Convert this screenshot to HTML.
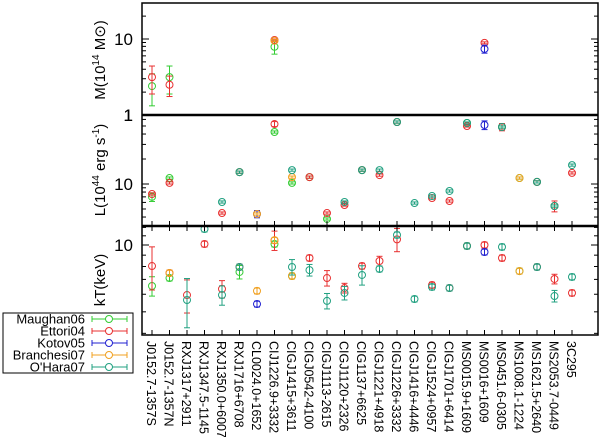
<!DOCTYPE html>
<html><head><meta charset="utf-8"><style>
body{margin:0;background:#fff;overflow:hidden;}
svg{display:block;font-family:"Liberation Sans",sans-serif;}
</style></head><body>
<svg id="chart" width="600" height="437" viewBox="0 0 600 437"></svg>
<script>
const categories=["J0152.7-1357S","J0152.7-1357N","RXJ1317+2911","RXJ1347.5-1145","RXJ1350.0+6007","RXJ1716+6708","CL0024.0+1652","CIJ1226.9+3332","CIGJ1415+3611","CIGJ0542-4100","CIGJ1113-2615","CIGJ1120+2326","CIG1137+6625","CIGJ1221+4918","CIGJ1226+3332","CIGJ1416+4446","CIGJ1524+0957","CIGJ1701+6414","MS0015.9+1609","MS0016+1609","MS0451.6-0305","MS1008.1-1224","MS1621.5+2640","MS2053.7-0449","3C295"];
const seriesNames=["Maughan06","Ettori04","Kotov05","Branchesi07","O'Hara07"];
const seriesColors=["#33cc33","#e83030","#2020d0","#f0a020","#20a080"];
const N=null;
// Mass (10^14 Msun)
const massMaughan=[2.4,3.15,N,N,N,N,N,7.9,N,N,N,N,N,N,N,N,N,N,N,N,N,N,N,N,N];
const massEttori=[3.15,2.5,N,N,N,N,N,9.7,N,N,N,N,N,N,N,N,N,N,N,8.9,N,N,N,N,N];
const massKotov=[N,N,N,N,N,N,N,N,N,N,N,N,N,N,N,N,N,N,N,7.4,N,N,N,N,N];
const massBranchesi=[N,N,N,N,N,N,N,9.5,N,N,N,N,N,N,N,N,N,N,N,N,N,N,N,N,N];
const massOHara=[N,N,N,N,N,N,N,N,N,N,N,N,N,N,N,N,N,N,N,N,N,N,N,N,N];
// Luminosity (10^44 erg/s)
const lumMaughan=[7.0,11.8,N,N,N,13.9,N,42.3,10.3,12.1,3.79,N,14.7,N,55.8,N,N,N,54.3,N,48.6,11.8,10.6,5.43,N];
const lumEttori=[7.58,10.3,N,N,4.47,13.9,N,52.8,N,12.1,4.47,5.58,14.7,12.8,55.8,N,6.78,6.24,50,N,48.6,N,10.6,5.43,13.6];
const lumKotov=[N,N,N,N,N,N,4.35,N,N,N,N,N,N,N,N,N,N,N,N,51.4,N,N,N,N,N];
const lumBranchesi=[N,N,N,N,N,N,4.35,N,12.1,N,N,N,N,N,N,N,N,N,N,N,N,11.8,N,N,N];
const lumOHara=[N,N,N,N,6.07,13.9,N,N,14.7,N,N,6.07,14.7,14.7,55.8,5.9,7.17,8.24,54.3,N,48.6,N,10.6,5.43,16.9];
// Temperature (keV)
const tMaughan=[6.54,7.1,N,N,N,7.56,N,10.1,7.25,N,N,N,N,N,N,N,N,N,9.9,N,N,7.63,N,N,N];
const tEttori=[8.04,7.48,5.95,10.1,6.34,7.96,N,10.5,N,8.74,7.1,6.4,8.04,8.47,10.6,N,6.6,6.4,9.9,10,8.74,N,7.96,7.03,6.08];
const tKotov=[N,N,N,N,N,N,5.42,N,N,N,N,N,N,N,N,N,N,N,N,9.3,N,N,N,N,N];
const tBranchesi=[N,7.48,N,N,N,N,6.21,10.5,7.25,N,N,N,N,N,N,N,N,N,N,N,N,7.63,N,N,N];
const tOHara=[N,N,5.65,11.8,5.95,7.96,N,N,7.96,7.71,5.6,6.08,7.33,7.8,11.1,5.71,6.47,6.4,9.9,N,9.8,N,7.96,5.89,7.18];
// fractional error overrides (panel-series-index)
const bigErrors={"m-0-0":0.45,"m-1-0":0.4,"m-0-1":0.4,"m-1-1":0.3,"m-0-7":0.2,"m-2-19":0.12,
"l-2-19":0.12,"l-1-20":0.1,"l-1-23":0.15,"l-2-6":0.1,"l-0-0":0.12,"l-1-7":0.07,
"t-1-0":0.22,"t-0-0":0.1,"t-1-2":0.17,"t-4-2":0.25,"t-1-4":0.09,"t-4-4":0.1,"t-0-5":0.07,"t-1-7":0.1,"t-4-8":0.08,"t-4-9":0.06,"t-1-10":0.08,"t-4-10":0.08,"t-4-12":0.1,"t-1-14":0.12,"t-1-13":0.05,"t-1-23":0.05,"t-4-23":0.06,"t-1-11":0.05,"t-4-11":0.07};
const panels=[
 {key:"m",name:"mass",top:3,bot:115,dec:76,ref:10,refY:39,data:[massMaughan,massEttori,massKotov,massBranchesi,massOHara],ticks:[10,1],minor:[2,3,4,5,6,7,8,9,20,30]},
 {key:"l",name:"luminosity",top:115,bot:226,dec:83,ref:10,refY:184,data:[lumMaughan,lumEttori,lumKotov,lumBranchesi,lumOHara],ticks:[10],minor:[4,5,6,7,8,9,20,30,40,50,60]},
 {key:"t",name:"temperature",top:226,bot:335,dec:222,ref:10,refY:245,data:[tMaughan,tEttori,tKotov,tBranchesi,tOHara],ticks:[10],minor:[4,5,6,7,8,9,11,12]}
];
const X0=142,X1=598;
function xPos(i){return 152+i*17.5;}
function yPos(p,v){return p.refY-(Math.log10(v)-Math.log10(p.ref))*p.dec;}
const svg=document.getElementById('chart');
const NS="http://www.w3.org/2000/svg";
function mk(t,a,parent){const e=document.createElementNS(NS,t);for(const k in a)e.setAttribute(k,a[k]);(parent||svg).appendChild(e);return e;}
panels.forEach(p=>{
 const g=mk('g',{});
 
 
 p.minor.concat(p.ticks).forEach(v=>{const y=yPos(p,v);if(y<=p.top+1||y>=p.bot-1)return;
  const big=p.ticks.includes(v);const L=big?7:4;
  mk('line',{x1:X0,x2:X0+L,y1:y,y2:y,stroke:'#000','stroke-width':1},g);
  mk('line',{x1:X1-L,x2:X1,y1:y,y2:y,stroke:'#000','stroke-width':1},g);});
 p.ticks.forEach(v=>{const t=mk('text',{x:133,y:yPos(p,v)+6,'text-anchor':'end','font-size':17},g);t.textContent=v;
  
  });
 p.data.forEach((arr,s)=>{arr.forEach((v,i)=>{if(v==null)return;
  const col=seriesColors[s];const x=xPos(i),y=yPos(p,v);
  const f=bigErrors[p.key+'-'+s+'-'+i]||0.03;
  const yl=yPos(p,v*(1-f)),yh=yPos(p,v*(1+f));
  const pt=mk('g',{},g);
  
  
  mk('line',{x1:x,x2:x,y1:Math.max(yh,p.top),y2:Math.min(yl,p.bot),stroke:col,'stroke-width':1},pt);
  if(yh>p.top)mk('line',{x1:x-3,x2:x+3,y1:yh,y2:yh,stroke:col},pt);
  if(yl<p.bot)mk('line',{x1:x-3,x2:x+3,y1:yl,y2:yl,stroke:col},pt);
  mk('circle',{cx:x,cy:y,r:3.5,fill:'none',stroke:col,'stroke-width':1},pt);
 });});
});
categories.forEach((c,i)=>{const x=xPos(i);
 mk('line',{x1:x,x2:x,y1:226,y2:231,stroke:'#000'});
 mk('line',{x1:x,x2:x,y1:330,y2:335,stroke:'#000'});
 mk('line',{x1:x,x2:x,y1:221,y2:226,stroke:'#000'});
 const t=mk('text',{x:0,y:0,'font-size':12.5,transform:`translate(${x-5},341) rotate(90)`});
 t.textContent=c;
 
 
});
mk('rect',{x:X0,y:3,width:X1-X0,height:332,fill:'none',stroke:'#000','stroke-width':1.5});
mk('line',{x1:X0,x2:X1,y1:115,y2:115,stroke:'#000','stroke-width':2.5});
mk('line',{x1:X0,x2:X1,y1:226,y2:226,stroke:'#000','stroke-width':2.5});
const one=mk('text',{x:133,y:121,'text-anchor':'end','font-size':17});one.textContent='1';
const yt=[["M(10","14"," M\u2299)",60,"mass-axis-title"],["L(10","44"," erg s","170","luminosity-axis-title"],["kT(keV)","","",280,"temperature-axis-title"]];
yt.forEach(a=>{const t=mk('text',{'font-size':15,'text-anchor':'middle',transform:`translate(105,${a[3]}) rotate(-90)`});
 
 
 if(a[1]){const s1=mk('tspan',{},t);s1.textContent=a[0];const s2=mk('tspan',{dy:-6,'font-size':10},t);s2.textContent=a[1];const s3=mk('tspan',{dy:6},t);s3.textContent=a[2];
  if(a[4]==='luminosity-axis-title'){const s4=mk('tspan',{dy:-6,'font-size':10},t);s4.textContent='-1';const s5=mk('tspan',{dy:6},t);s5.textContent=')';}}
 else t.textContent=a[0];});
const lg=mk('g',{});


mk('rect',{x:3,y:313,width:130,height:60,fill:'#fff',stroke:'#000','stroke-width':1},lg);
seriesNames.forEach((n,s)=>{const y=319+s*12;const col=seriesColors[s];
 const e=mk('g',{},lg);
 
 
 const t=mk('text',{x:85,y:y+4.5,'text-anchor':'end','font-size':13},e);t.textContent=n;
 mk('line',{x1:92,x2:127,y1:y,y2:y,stroke:col},e);
 mk('line',{x1:92,x2:92,y1:y-3,y2:y+3,stroke:col},e);
 mk('line',{x1:127,x2:127,y1:y-3,y2:y+3,stroke:col},e);
 mk('circle',{cx:109,cy:y,r:3.5,fill:'#fff',stroke:col},e);
});
</script>
</body></html>
